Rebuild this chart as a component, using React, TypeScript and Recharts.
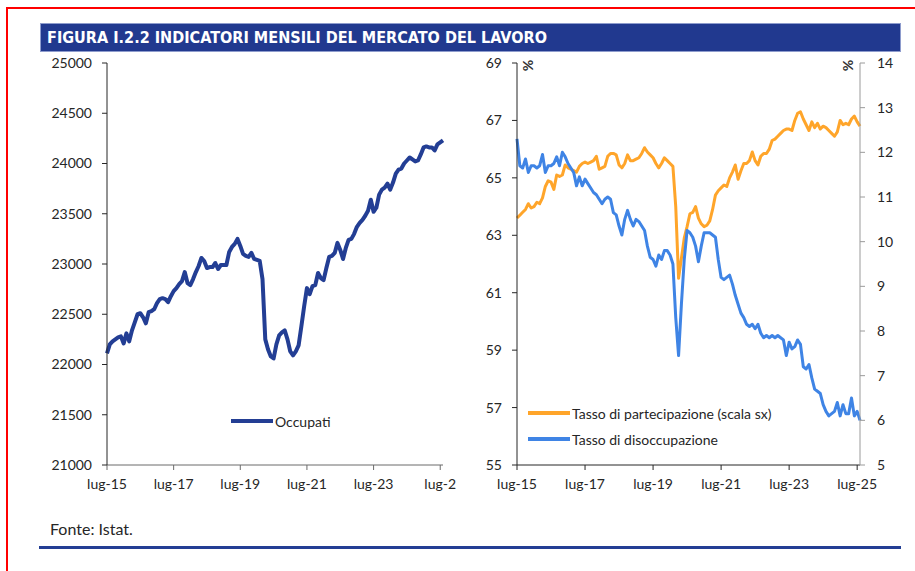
import React from 'react';
import { LineChart, Line, XAxis, YAxis, Legend } from 'recharts';

const occupati = [
  22110, 22200, 22230, 22250, 22270, 22280, 22210, 22310, 22230, 22340,
  22420, 22500, 22510, 22470, 22410, 22520, 22530, 22550, 22610, 22650,
  22660, 22650, 22620, 22680, 22730, 22760, 22800, 22830, 22920, 22810,
  22790, 22850, 22920, 22980, 23060, 23030, 22960, 22970, 22970, 23010,
  22950, 22990, 22990, 22990, 23120, 23170, 23200, 23250, 23180, 23100,
  23080, 23070, 23110, 23050, 23040, 23030, 22850, 22250, 22150, 22080,
  22060, 22200, 22290, 22320, 22340, 22250, 22130, 22090, 22130, 22190,
  22380, 22580, 22760, 22700, 22780, 22790, 22910, 22860, 22840, 22960,
  23070, 23080, 23110, 23210, 23140, 23050, 23160, 23240, 23250, 23300,
  23370, 23410, 23440, 23480, 23530, 23640, 23520, 23560, 23690, 23740,
  23760, 23800, 23740, 23810, 23900, 23940, 23950, 24000, 24030, 24060,
  24040, 24020, 24030, 24090, 24160, 24170, 24160, 24160, 24130, 24190,
  24210, 24230,
];

const partecipazione = [
  63.6, 63.7, 63.8, 63.9, 64.1, 63.95, 64.0, 64.15, 64.1, 64.3,
  64.7, 64.9, 64.85, 64.6, 65.1, 65.05, 65.1, 65.45, 65.35, 65.3,
  65.25, 65.2, 65.4, 65.5, 65.55, 65.5, 65.55, 65.6, 65.75, 65.3,
  65.35, 65.4, 65.75, 65.85, 65.85, 65.8, 65.45, 65.35, 65.5, 65.8,
  65.6, 65.6, 65.65, 65.7, 65.85, 66.05, 65.9, 65.8, 65.7, 65.5,
  65.35, 65.5, 65.7, 65.6, 65.5, 65.4, 64.0, 61.5, 62.2, 62.9,
  63.3, 63.75, 63.8, 64.0, 63.6, 63.4, 63.3, 63.35, 63.5, 63.9,
  64.4, 64.55, 64.65, 64.75, 64.7, 65.0, 65.2, 65.45, 64.95, 65.25,
  65.5, 65.5, 65.6, 65.9, 65.6, 65.45, 65.75, 65.85, 65.85, 66.0,
  66.3, 66.35, 66.45, 66.55, 66.65, 66.7, 66.7, 66.65, 67.0, 67.25,
  67.3, 67.05, 66.85, 66.65, 66.95, 66.75, 66.9, 66.7, 66.8, 66.75,
  66.65, 66.55, 66.45, 66.6, 67.0, 66.85, 66.9, 66.85, 67.05, 67.15,
  66.95, 66.8,
];

const disoccupazione = [
  12.3, 11.7, 11.65, 11.85, 11.55, 11.7, 11.7, 11.65, 11.7, 11.95,
  11.55, 11.7, 11.7, 11.75, 11.9, 11.7, 12.0, 11.9, 11.75, 11.65,
  11.55, 11.25, 11.45, 11.25, 11.4, 11.3, 11.2, 11.1, 11.05, 10.95,
  10.85, 10.95, 11.0, 10.95, 10.65, 10.6, 10.35, 10.15, 10.5, 10.7,
  10.5, 10.35, 10.5, 10.45, 10.35, 10.25, 9.9, 9.65, 9.6, 9.45,
  9.7, 9.6, 9.8, 9.8, 9.7, 9.5, 8.3, 7.45, 8.6, 9.6,
  10.25, 10.2, 10.1, 9.9, 9.55, 9.9, 10.2, 10.2, 10.2, 10.15,
  10.1, 9.6, 9.2, 9.15, 9.2, 9.25, 9.05, 8.8, 8.6, 8.4,
  8.3, 8.15, 8.1, 8.15, 8.05, 8.15, 7.95, 7.85, 7.9, 7.85,
  7.9, 7.85, 7.9, 7.85, 7.8, 7.45, 7.75, 7.6, 7.65, 7.8,
  7.7, 7.2, 7.15, 7.25, 6.95, 6.7, 6.65, 6.6, 6.35, 6.2,
  6.1, 6.15, 6.2, 6.4, 6.1, 6.35, 6.15, 6.15, 6.5, 6.1,
  6.2, 6.0,
];

const xTicks = [0, 24, 48, 72, 96, 120];
const leftXLabels = ['lug-15', 'lug-17', 'lug-19', 'lug-21', 'lug-23', 'lug-2'];
const rightXLabels = ['lug-15', 'lug-17', 'lug-19', 'lug-21', 'lug-23', 'lug-25'];
const occTicks = [21000, 21500, 22000, 22500, 23000, 23500, 24000, 24500, 25000];
const partTicks = [55, 57, 59, 61, 63, 65, 67, 69];
const disTicks = [5, 6, 7, 8, 9, 10, 11, 12, 13, 14];

const rows = occupati.map((v, i) => ({
  i,
  occ: v,
  part: partecipazione[i],
  dis: disoccupazione[i],
}));

const NAVY = '#233e94';
const ORANGE = '#ffa52a';
const BLUE = '#3f84e5';
const FONT = 'Lato, "Open Sans", sans-serif';
const tickStyle = { fontSize: 14, fill: '#262626', fontFamily: FONT };

const LegendItem = ({ color, label }: { color: string; label: string }) => (
  <div style={{ display: 'flex', alignItems: 'center', height: 26, whiteSpace: 'nowrap' }}>
    <svg width={42} height={6} style={{ display: 'block' }}>
      <line x1={0} y1={3} x2={42} y2={3} stroke={color} strokeWidth={4} />
    </svg>
    <span style={{ marginLeft: 2, fontSize: 14, color: '#262626', fontFamily: FONT }}>{label}</span>
  </div>
);

export default function App() {
  return (
    <div
      style={{
        position: 'absolute',
        left: 0,
        top: 0,
        width: 915,
        height: 571,
        background: '#ffffff',
        overflow: 'hidden',
        fontFamily: FONT,
      }}
    >
      <div style={{ position: 'absolute', left: 6, top: 7, width: 2, height: 571, background: '#ff0000' }} />
      <div style={{ position: 'absolute', left: 6, top: 7, width: 915, height: 2, background: '#ff0000' }} />

      <svg style={{ position: 'absolute', left: 0, top: 0 }} width={915} height={60}>
        <rect x={40.5} y={23.5} width={860} height={28} fill="#21398f" stroke="#8e9ccd" strokeWidth={1} />
        <text
          x={47}
          y={43}
          fill="#ffffff"
          fontWeight="bold"
          fontSize={15}
          textLength={500}
          lengthAdjust="spacingAndGlyphs"
          fontFamily='"Liberation Sans Narrow", "DejaVu Sans Condensed", "Liberation Sans", sans-serif'
        >
          FIGURA I.2.2 INDICATORI MENSILI DEL MERCATO DEL LAVORO
        </text>
      </svg>

      <div style={{ position: 'absolute', left: 0, top: 0 }}>
        <LineChart width={460} height={571} data={rows} margin={{ top: 63, right: 17, bottom: 76, left: 0 }}>
          <XAxis
            type="number"
            dataKey="i"
            domain={[0, 121]}
            ticks={xTicks}
            interval={0}
            tickFormatter={(v: number) => leftXLabels[xTicks.indexOf(v)]}
            tick={tickStyle}
            tickSize={5}
            tickMargin={9}
            stroke="#6b6b6b"
            height={30}
          />
          <YAxis
            type="number"
            domain={[21000, 25000]}
            ticks={occTicks}
            interval={0}
            tick={tickStyle}
            tickSize={5}
            tickMargin={10}
            stroke="#262626"
            width={107}
          />
          <Line
            dataKey="occ"
            type="linear"
            stroke={NAVY}
            strokeWidth={4}
            dot={false}
            strokeLinejoin="round"
            isAnimationActive={false}
          />
          <Legend
            verticalAlign="middle"
            align="center"
            wrapperStyle={{ position: 'absolute', left: 231, top: 408, width: 'auto', height: 'auto' }}
            content={() => <LegendItem color={NAVY} label="Occupati" />}
          />
        </LineChart>
      </div>

      <div style={{ position: 'absolute', left: 460, top: 0 }}>
        <LineChart width={455} height={571} data={rows} margin={{ top: 63, right: 0, bottom: 76, left: 0 }}>
          <XAxis
            type="number"
            dataKey="i"
            domain={[0, 121]}
            ticks={xTicks}
            interval={0}
            tickFormatter={(v: number) => rightXLabels[xTicks.indexOf(v)]}
            tick={tickStyle}
            tickSize={5}
            tickMargin={9}
            stroke="#262626"
            height={30}
          />
          <YAxis
            yAxisId="l"
            type="number"
            domain={[55, 69]}
            ticks={partTicks}
            interval={0}
            tick={tickStyle}
            tickSize={5}
            tickMargin={10}
            stroke="#262626"
            width={57}
          />
          <YAxis
            yAxisId="r"
            orientation="right"
            type="number"
            domain={[5, 14]}
            ticks={disTicks}
            interval={0}
            tick={tickStyle}
            tickSize={5}
            tickMargin={12}
            stroke="#9a9a9a"
            width={55}
          />
          <Line
            yAxisId="l"
            dataKey="part"
            type="linear"
            stroke={ORANGE}
            strokeWidth={3}
            dot={false}
            strokeLinejoin="round"
            isAnimationActive={false}
          />
          <Line
            yAxisId="r"
            dataKey="dis"
            type="linear"
            stroke={BLUE}
            strokeWidth={3}
            dot={false}
            strokeLinejoin="round"
            isAnimationActive={false}
          />
          <Legend
            verticalAlign="middle"
            align="center"
            wrapperStyle={{ position: 'absolute', left: 68, top: 400, width: 'auto', height: 'auto' }}
            content={() => (
              <div>
                <LegendItem color={ORANGE} label="Tasso di partecipazione (scala sx)" />
                <LegendItem color={BLUE} label="Tasso di disoccupazione" />
              </div>
            )}
          />
        </LineChart>
      </div>

      <div
        style={{
          position: 'absolute',
          left: 523,
          top: 57,
          fontSize: 14,
          fontWeight: 'bold',
          color: '#333',
          transform: 'rotate(90deg)',
          fontFamily: FONT,
        }}
      >
        %
      </div>
      <div
        style={{
          position: 'absolute',
          left: 843,
          top: 57,
          fontSize: 14,
          fontWeight: 'bold',
          color: '#333',
          transform: 'rotate(90deg)',
          fontFamily: FONT,
        }}
      >
        %
      </div>

      <div style={{ position: 'absolute', left: 50, top: 519, fontSize: 16, color: '#262626', fontFamily: FONT }}>
        Fonte: Istat.
      </div>
      <div style={{ position: 'absolute', left: 39, top: 546, width: 862, height: 3, background: NAVY }} />
    </div>
  );
}
